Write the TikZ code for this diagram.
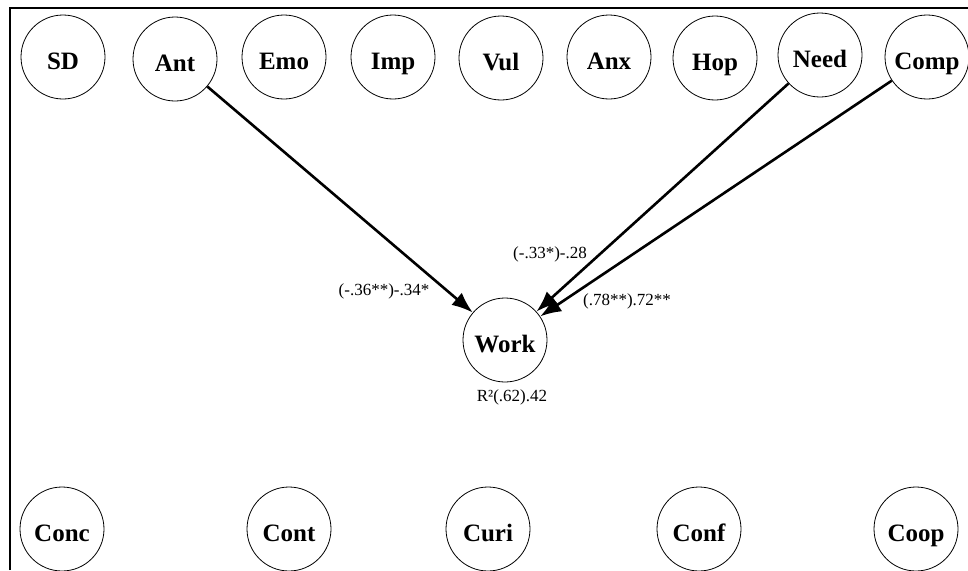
\documentclass[tikz,border=0pt]{standalone}
\usepackage{fontspec}
\setmainfont{Liberation Serif}
\usetikzlibrary{arrows.meta}
\tikzset{var/.style={draw, circle, line width=0.8pt, minimum size=84pt, inner sep=0pt,
    text height=28pt, text depth=3pt, font=\fontsize{25}{25}\selectfont\bfseries},
  effect/.style={line width=2.6pt, -{Latex[length=21pt,width=16pt]}},
  coef/.style={font=\fontsize{17}{17}\selectfont, inner sep=0pt}}
\begin{document}
\begin{tikzpicture}[x=1pt,y=-1pt]
\useasboundingbox (0,0) rectangle (968,570);
\clip (0,0) rectangle (968,570);
\draw[line width=1.5pt] (10,570) -- (10,8) -- (968,8); % frame
\foreach \n/\x/\y in {SD/63/57, Ant/175/59, Emo/284/57, Imp/393/57, Vul/501/58,
  Anx/609/57, Hop/715/58, Need/820/55, Comp/927/57} % top row
\node[var] (\n) at (\x,\y) {\n};
\foreach \n/\x in {Conc/62, Cont/289, Curi/488, Conf/699, Coop/916} % bottom row
\node[var] (\n) at (\x,529) {\n};
\node[var] (Work) at (505,340) {Work};
\draw[effect] (Ant) -- (Work);
\draw[effect] (Need) -- (Work);
\draw[effect] (Comp) -- (Work);
\node[coef] (bAnt) at (384,291) {(-.36**)-.34*};
\node[coef] (bNeed) at (550,254) {(-.33*)-.28};
\node[coef] (bComp) at (627,301) {(.78**).72**};
\node[coef] (rWork) at (512,397) {R²(.62).42};
\end{tikzpicture}
\end{document}
